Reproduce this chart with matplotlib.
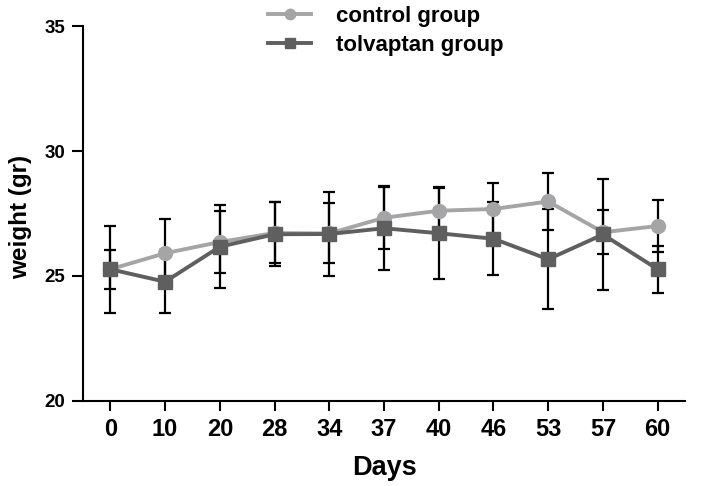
import matplotlib
matplotlib.use("Agg")
import matplotlib.pyplot as plt
import numpy as np

days = ["0", "10", "20", "28", "34", "37", "40", "46", "53", "57", "60"]
weight_ticks = [20, 25, 30, 35]

control_mean = [25.27, 25.91, 26.36, 26.72, 26.70, 27.33, 27.61, 27.68, 27.98, 26.75, 27.00]
control_sd = [0.78, 1.36, 1.25, 1.22, 1.20, 1.25, 0.93, 1.02, 1.15, 0.87, 1.03]

tolvaptan_mean = [25.27, 24.77, 26.17, 26.67, 26.68, 26.91, 26.71, 26.49, 25.67, 26.66, 25.27]
tolvaptan_sd = [1.74, 1.27, 1.65, 1.27, 1.68, 1.66, 1.82, 1.45, 2.00, 2.23, 0.94]

light = "#a5a5a8"
dark = "#5f5f5f"
bold_font = ["Liberation Sans", "DejaVu Sans"]

fig = plt.figure(figsize=(7.05, 4.86), dpi=100)
ax = fig.add_axes([0.1177, 0.1749, 0.854, 0.7716])

x = np.arange(len(days))

# error bars under the markers
ax.errorbar(x, control_mean, yerr=control_sd, fmt="none", ecolor="black",
            elinewidth=1.6, capsize=4.5, capthick=1.6, zorder=2)
ax.errorbar(x, tolvaptan_mean, yerr=tolvaptan_sd, fmt="none", ecolor="black",
            elinewidth=1.6, capsize=4.5, capthick=1.6, zorder=2)

ax.plot(x, control_mean, color=light, lw=2.8, marker="o", ms=10,
        label="control group", zorder=3)
ax.plot(x, tolvaptan_mean, color=dark, lw=2.8, marker="s", ms=10,
        label="tolvaptan group", zorder=4)

ax.set_xlim(-0.5, 10.5)
ax.set_ylim(20, 35)
ax.set_yticks(weight_ticks, labels=[str(t) for t in weight_ticks],
              family=bold_font, fontweight="bold", fontsize=13.5)
ax.set_xticks(x, labels=days, family=bold_font, fontweight="bold", fontsize=17)

ax.spines["top"].set_visible(False)
ax.spines["right"].set_visible(False)
for s in ["left", "bottom"]:
    ax.spines[s].set_linewidth(1.5)
ax.tick_params(axis="y", direction="out", length=8, width=1.5, pad=5)
ax.tick_params(axis="x", direction="out", length=7, width=1.5, pad=5)

ax.set_ylabel("weight (gr)", family=bold_font, fontweight="bold", fontsize=17.5)
ax.yaxis.set_label_coords(-0.085, 0.49)
ax.set_xlabel("Days", family=bold_font, fontweight="bold", fontsize=19.5, labelpad=10)

leg = fig.legend(loc="upper left", bbox_to_anchor=(0.377, 0.992), frameon=False,
                 prop={"family": bold_font, "weight": "bold", "size": 16},
                 handlelength=1.95, labelspacing=0.35, handletextpad=1.1,
                 borderpad=0.1, borderaxespad=0, markerscale=0.75)

fig.savefig("out.png", dpi=100)
